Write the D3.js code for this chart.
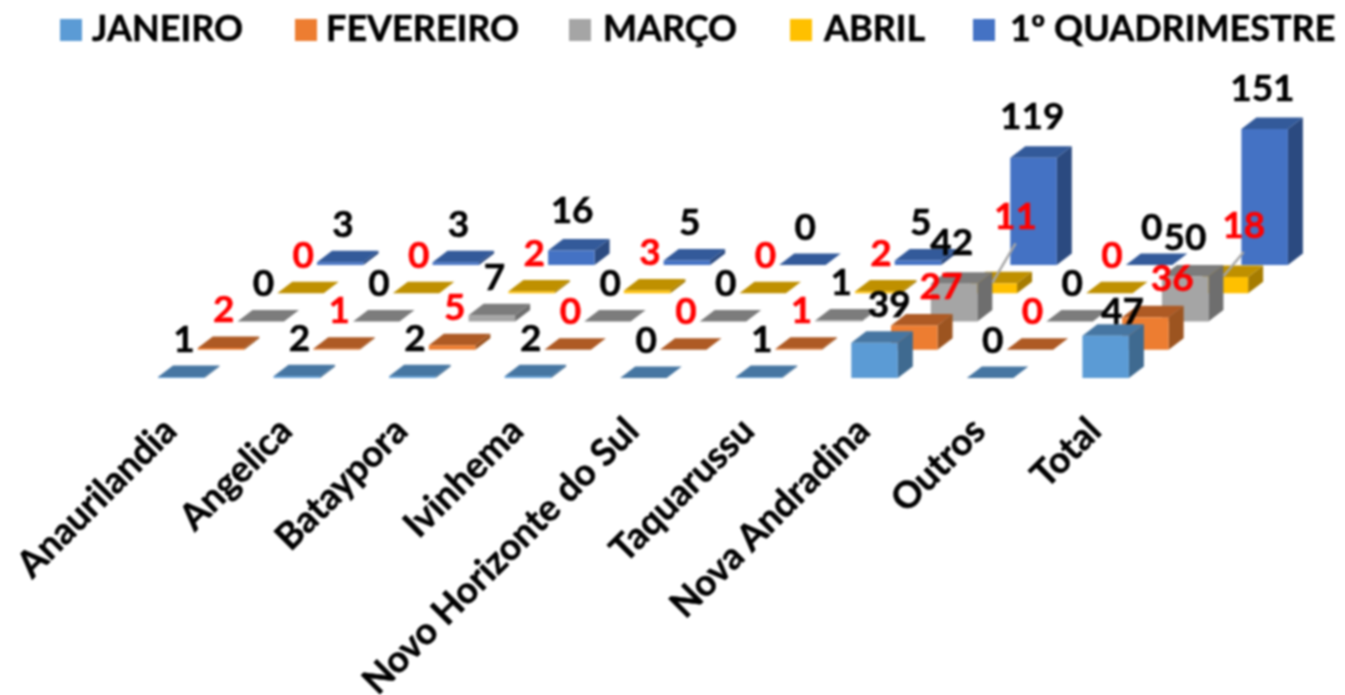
<!DOCTYPE html>
<html><head><meta charset="utf-8">
<script src="https://cdn.jsdelivr.net/npm/d3@7/dist/d3.min.js"></script>
<style>html,body{margin:0;padding:0;background:#fff}svg{display:block;filter:blur(0.8px)}text{font-family:Lato,"Open Sans",sans-serif;font-weight:700;stroke-width:0.5px;paint-order:stroke}</style>
</head><body><svg id="c" width="1345" height="695"></svg>
<script>
const categories=["Anaurilandia","Angelica","Bataypora","Ivinhema","Novo Horizonte do Sul","Taquarussu","Nova Andradina","Outros","Total"];
const seriesNames=["JANEIRO","FEVEREIRO","MARÇO","ABRIL","1º QUADRIMESTRE"];
const janeiro=[1,2,2,2,0,1,39,0,47];
const fevereiro=[2,1,5,0,0,1,27,0,36];
const marco=[0,0,7,0,0,1,42,0,50];
const abril=[0,0,2,3,0,2,11,0,18];
const quadrimestre=[3,3,16,5,0,5,119,0,151];
const seriesValues=[janeiro,fevereiro,marco,abril,quadrimestre];
const frontColors=["#5b9bd5","#ed7d31","#a5a5a5","#ffc000","#4472c4"];
const topColors=["#4676a2","#ae5a24","#7c7c7c","#bf9000","#335a9a"];
const sideColors=["#3f6a90","#9c5420","#6e6e6e","#a67c00","#2b4a80"];
const labelColors=["#000","#ff0000","#000","#ff0000","#000"];
// manually moved data labels: [series, category, dx, dy]
const labelMoves=[[0,6,12,0],[1,6,24,-1],[2,6,-5,-3],[3,6,19,-29],[0,8,14,14],[1,8,24,-1],[2,8,-3,-1],[3,8,16,-14],[4,2,-2,-2],[4,6,-4,-3],[4,8,-5,-3]];
const leaderSeries=3, leaderCats=[6,8];
const legendSwatchX=[60,295,569,790,973], legendTextX=[92,326,603,824,1010];

const svg=d3.select("#c");
const barW=46.5, depthX=15, depthY=11.5;
const xCat=d3.scaleBand().domain(categories).range([158,158+115.55*categories.length]);
const xSer=d3.scalePoint().domain(seriesNames).range([0,159]);
const base=d3.scalePoint().domain(seriesNames).range([378,265]);
const h=d3.scaleLinear().domain([0,151]).range([0,136]);
const line=d3.line();

seriesNames.slice().reverse().forEach(name=>{
  const s=seriesNames.indexOf(name);
  const g=svg.append("g").attr("class","series");
  const bars=g.selectAll("g").data(seriesValues[s]).join("g");
  const X=(d,i)=>xCat(categories[i])+xSer(name), B=base(name), T=d=>B-h(d);
  bars.append("path").attr("fill",sideColors[s]).attr("d",(d,i)=>line([[X(d,i)+barW,B],[X(d,i)+barW,T(d)],[X(d,i)+barW+depthX,T(d)-depthY],[X(d,i)+barW+depthX,B-depthY]])+"Z");
  bars.append("path").attr("fill",topColors[s]).attr("d",(d,i)=>line([[X(d,i),T(d)],[X(d,i)+barW,T(d)],[X(d,i)+barW+depthX,T(d)-depthY],[X(d,i)+depthX,T(d)-depthY]])+"Z");
  bars.append("rect").attr("fill",frontColors[s]).attr("x",(d,i)=>X(d,i)).attr("y",d=>T(d)).attr("width",barW).attr("height",d=>h(d));
});

const labelPos=(s,c)=>{
  const name=seriesNames[s], v=seriesValues[s][c];
  const m=labelMoves.find(a=>a[0]===s&&a[1]===c)||[s,c,0,0];
  return [xCat(categories[c])+xSer(name)+26+m[2], base(name)-h(v)-40+m[3]];
};
leaderCats.forEach(c=>{
  const name=seriesNames[leaderSeries], v=seriesValues[leaderSeries][c], p=labelPos(leaderSeries,c);
  svg.append("path").attr("fill","none").attr("stroke","#a6a6a6").attr("stroke-width",2.5)
    .attr("d",line([[p[0],p[1]+29],[xCat(categories[c])+xSer(name)+22,base(name)-h(v)-1]]));
});
seriesNames.forEach((name,s)=>{
  svg.append("g").selectAll("text").data(seriesValues[s]).join("text")
    .attr("x",(d,i)=>labelPos(s,i)[0]).attr("y",(d,i)=>labelPos(s,i)[1])
    .attr("text-anchor","middle").attr("dominant-baseline","central")
    .attr("font-size",37).attr("fill",labelColors[s]).attr("stroke",labelColors[s]).text(d=>d);
});

const axis=svg.append("g").attr("transform","translate(0,420)")
  .call(d3.axisBottom(xCat).tickSize(0).tickPadding(0));
axis.select(".domain").remove();
axis.selectAll(".tick text").attr("font-size",37).attr("fill","#000").attr("stroke","#000")
  .attr("text-anchor","end").attr("dy",0).attr("y",0)
  .attr("transform","translate(-37,13) rotate(-45)");

const leg=svg.append("g");
seriesNames.forEach((name,s)=>{
  leg.append("rect").attr("x",legendSwatchX[s]).attr("y",19).attr("width",22).attr("height",22).attr("fill",frontColors[s]);
  leg.append("text").attr("x",legendTextX[s]).attr("y",41).attr("font-size",36).attr("fill","#000").attr("stroke","#000").text(name);
});
</script></body></html>
